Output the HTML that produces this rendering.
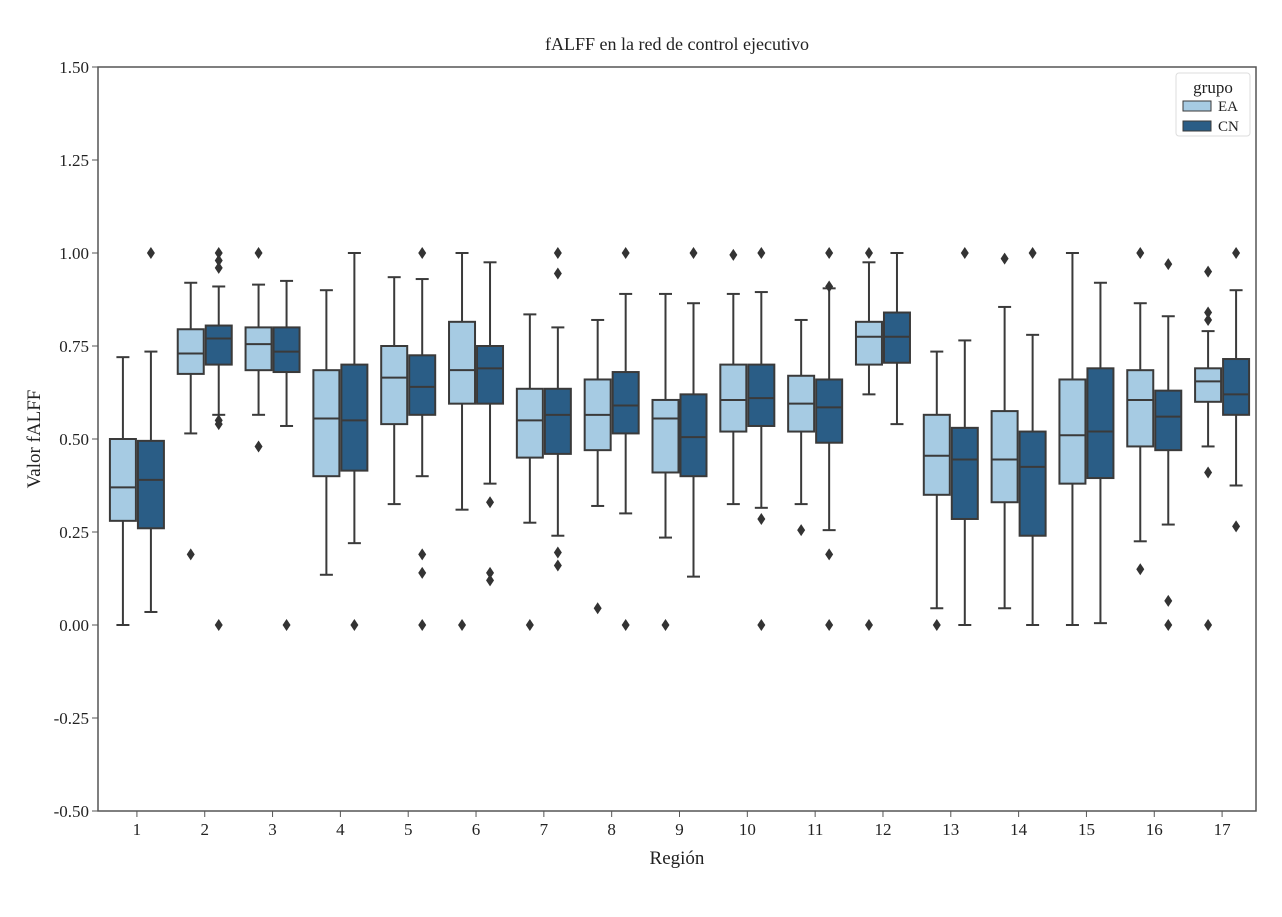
<!DOCTYPE html>
<html><head><meta charset="utf-8"><style>
body{margin:0;background:#fff;}
svg text{font-family:"Liberation Serif",serif;fill:#222;}
</style></head><body>
<svg id="chart" width="1282" height="912">
<text x="677" y="50" font-size="18" text-anchor="middle">fALFF en la red de control ejecutivo</text>
<rect x="98" y="67" width="1158" height="744" fill="none" stroke="#555" stroke-width="1.5"/>
<g id="axes"></g><g id="marks"></g>
<text x="677" y="864" font-size="19" text-anchor="middle">Región</text>
<text transform="translate(40,439) rotate(-90)" font-size="19" text-anchor="middle">Valor fALFF</text>
<g>
<rect x="1176" y="73" width="74" height="63" rx="3" fill="#fff" stroke="#ddd"/>
<text x="1213" y="93" font-size="17" text-anchor="middle">grupo</text>
<rect x="1183" y="101" width="28" height="10" fill="#a6cbe3" stroke="#3a3a3a"/>
<text x="1218" y="111" font-size="15">EA</text>
<rect x="1183" y="121" width="28" height="10" fill="#2a5d86" stroke="#3a3a3a"/>
<text x="1218" y="131" font-size="15">CN</text>
</g>
</svg>
<script>
const categories=[1,2,3,4,5,6,7,8,9,10,11,12,13,14,15,16,17];
const yTicks=[-0.5,-0.25,0,0.25,0.5,0.75,1.0,1.25,1.5];
const yTickLabels=["-0.50","-0.25","0.00","0.25","0.50","0.75","1.00","1.25","1.50"];
// [whiskerLow, q1, median, q3, whiskerHigh]
const eaStats=[[0,0.28,0.37,0.5,0.72],[0.515,0.675,0.73,0.795,0.92],[0.565,0.685,0.755,0.8,0.915],[0.135,0.4,0.555,0.685,0.9],[0.325,0.54,0.665,0.75,0.935],[0.31,0.595,0.685,0.815,1.0],[0.275,0.45,0.55,0.635,0.835],[0.32,0.47,0.565,0.66,0.82],[0.235,0.41,0.555,0.605,0.89],[0.325,0.52,0.605,0.7,0.89],[0.325,0.52,0.595,0.67,0.82],[0.62,0.7,0.775,0.815,0.975],[0.045,0.35,0.455,0.565,0.735],[0.045,0.33,0.445,0.575,0.855],[0,0.38,0.51,0.66,1.0],[0.225,0.48,0.605,0.685,0.865],[0.48,0.6,0.655,0.69,0.79]];
const cnStats=[[0.035,0.26,0.39,0.495,0.735],[0.565,0.7,0.77,0.805,0.91],[0.535,0.68,0.735,0.8,0.925],[0.22,0.415,0.55,0.7,1.0],[0.4,0.565,0.64,0.725,0.93],[0.38,0.595,0.69,0.75,0.975],[0.24,0.46,0.565,0.635,0.8],[0.3,0.515,0.59,0.68,0.89],[0.13,0.4,0.505,0.62,0.865],[0.315,0.535,0.61,0.7,0.895],[0.255,0.49,0.585,0.66,0.905],[0.54,0.705,0.775,0.84,1.0],[0,0.285,0.445,0.53,0.765],[0,0.24,0.425,0.52,0.78],[0.005,0.395,0.52,0.69,0.92],[0.27,0.47,0.56,0.63,0.83],[0.375,0.565,0.62,0.715,0.9]];
const eaOutliers=[[],[0.19],[1.0,0.48],[],[],[0],[0],[0.045],[0],[0.995],[0.255],[1.0,0],[0],[0.985],[],[1.0,0.15],[0.95,0.84,0.82,0.41,0]];
const cnOutliers=[[1.0],[1.0,0.98,0.96,0.55,0.54,0],[0],[0],[1.0,0.19,0.14,0],[0.33,0.14,0.12],[1.0,0.945,0.195,0.16],[1.0,0],[1.0],[1.0,0.285,0],[1.0,0.91,0.19,0],[],[1.0],[1.0],[],[0.97,0.065,0],[1.0,0.265]];
const NS="http://www.w3.org/2000/svg";
const X0=98,X1=1256,Y0=67,Y1=811;
const XS=103,XE=1256;
const y=v=>Y1-(v+0.5)/2*(Y1-Y0);
const step=(XE-XS)/categories.length;
const xc=i=>XS+step*(i+0.5);
function mk(t,a,p){const e=document.createElementNS(NS,t);for(const k in a)e.setAttribute(k,a[k]);p.appendChild(e);return e;}
const axes=document.getElementById('axes'),marks=document.getElementById('marks');
yTicks.forEach((v,i)=>{
 const l=mk('line',{x1:X0-6,x2:X0,y1:y(v),y2:y(v),stroke:'#555'},axes);
 
 
 const t=mk('text',{x:X0-9,y:y(v)+6,'font-size':17,'text-anchor':'end'},axes);t.textContent=yTickLabels[i];
 
 
});
categories.forEach((c,i)=>{
 const l=mk('line',{x1:xc(i),x2:xc(i),y1:Y1,y2:Y1+6,stroke:'#555'},axes);
 
 
 const t=mk('text',{x:xc(i),y:Y1+24,'font-size':17,'text-anchor':'middle'},axes);t.textContent=c;
 
 
});
const bw=26;
function box(s,outs,cx,fill,name){
 const g=mk('g',{},marks);
 
 
 const st={stroke:'#3a3a3a','stroke-width':2};
 mk('line',Object.assign({x1:cx,x2:cx,y1:y(s[0]),y2:y(s[1])},st),g);
 mk('line',Object.assign({x1:cx,x2:cx,y1:y(s[3]),y2:y(s[4])},st),g);
 mk('line',Object.assign({x1:cx-bw/4,x2:cx+bw/4,y1:y(s[0]),y2:y(s[0])},st),g);
 mk('line',Object.assign({x1:cx-bw/4,x2:cx+bw/4,y1:y(s[4]),y2:y(s[4])},st),g);
 mk('rect',Object.assign({x:cx-bw/2,y:y(s[3]),width:bw,height:y(s[1])-y(s[3]),fill:fill},st),g);
 mk('line',Object.assign({x1:cx-bw/2,x2:cx+bw/2,y1:y(s[2]),y2:y(s[2])},st),g);
 outs.forEach(o=>{const yy=y(o);mk('polygon',{points:`${cx},${yy-6} ${cx+4},${yy} ${cx},${yy+6} ${cx-4},${yy}`,fill:'#333'},g);});
}
categories.forEach((c,i)=>{
 box(eaStats[i],eaOutliers[i],xc(i)-bw/2-1,'#a6cbe3','box-ea-region-'+c);
 box(cnStats[i],cnOutliers[i],xc(i)+bw/2+1,'#2a5d86','box-cn-region-'+c);
});
</script>
</body></html>
